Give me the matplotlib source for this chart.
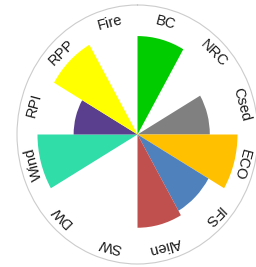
import numpy as np
import matplotlib.pyplot as plt

# categories clockwise from north, 30 deg each
labels = ['BC', 'NRC', 'Csed', 'ECO', 'IFS', 'Alien', 'SW', 'DW', 'Wind', 'RPI', 'RPP', 'Fire']
values = [0.76, 0, 0.60, 0.83, 0.68, 0.72, 0, 0, 0.83, 0.53, 0.80, 0]
colors = ['#00cc00', '#ffffff', '#808080', '#ffc000', '#4f81bd', '#c0504d',
          '#ffffff', '#ffffff', '#30dca8', '#5b3f8f', '#ffff00', '#ffffff']

fig = plt.figure(figsize=(2.56, 2.67), dpi=100)
ax = fig.add_axes([17/256, 3/267, 241/256, 259/267], projection='polar')
ax.set_aspect('auto')
ax.set_theta_zero_location('N')
ax.set_theta_direction(-1)

theta = np.deg2rad(np.arange(len(labels)) * 30)
ax.bar(theta, values, width=np.deg2rad(30), align='edge', color=colors, linewidth=0)
ax.set_ylim(0, 1)
ax.set_xticks([])
ax.set_yticks([])
ax.grid(False)
ax.spines['polar'].set_color('#cccccc')
ax.spines['polar'].set_linewidth(0.8)

# labels along the rim
for i, lab in enumerate(labels):
    ang = i * 30 + 15
    ax.text(np.deg2rad(ang), 0.89, lab, rotation=-ang, rotation_mode='anchor',
            ha='center', va='center', fontsize=10.5, color='#1a1a1a',
            family='Liberation Sans')

fig.savefig('out.png', dpi=100)
